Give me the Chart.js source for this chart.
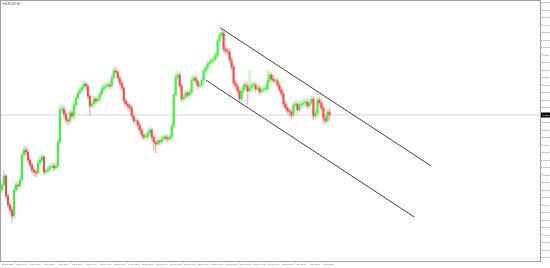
<!DOCTYPE html>
<html>
<head>
<meta charset="utf-8">
<title>EURUSD H4</title>
<script src="https://cdn.jsdelivr.net/npm/chart.js@4.4.1/dist/chart.umd.min.js"></script>
<style>
    html, body { margin: 0; padding: 0; background: #ffffff; }
    #wrap { width: 550px; height: 268px; position: relative; }
</style>
</head>
<body>
<div id="wrap"><canvas id="priceChart"></canvas></div>
<script>
// Symbol caption shown in the top-left corner
const symbolTitle = 'EURUSD,H4';

// H4 candles (oldest first)
const firstOpen = 1.2120;
const closes = [
    1.2130, 1.2148, 1.2108, 1.2090, 1.2080, 1.2068, 1.2120, 1.2130, 1.2128, 1.2140,
    1.2190, 1.2200, 1.2196, 1.2180, 1.2170, 1.2160, 1.2156, 1.2154, 1.2174, 1.2180,
    1.2186, 1.2156, 1.2158, 1.2162, 1.2166, 1.2168, 1.2164, 1.2168, 1.2216, 1.2280,
    1.2282, 1.2272, 1.2260, 1.2258, 1.2274, 1.2268, 1.2290, 1.2304, 1.2314, 1.2320,
    1.2326, 1.2332, 1.2328, 1.2308, 1.2288, 1.2292, 1.2302, 1.2298, 1.2302, 1.2312,
    1.2322, 1.2326, 1.2328, 1.2330, 1.2328, 1.2344, 1.2358, 1.2356, 1.2344, 1.2334,
    1.2324, 1.2298, 1.2292, 1.2288, 1.2284, 1.2268, 1.2258, 1.2258, 1.2250, 1.2240,
    1.2230, 1.2226, 1.2226, 1.2234, 1.2240, 1.2226, 1.2216, 1.2212, 1.2218, 1.2216,
    1.2222, 1.2226, 1.2224, 1.2222, 1.2226, 1.2248, 1.2310, 1.2346, 1.2350, 1.2328,
    1.2302, 1.2306, 1.2314, 1.2310, 1.2316, 1.2340, 1.2344, 1.2338, 1.2328, 1.2330,
    1.2340, 1.2358, 1.2364, 1.2372, 1.2376, 1.2380, 1.2382, 1.2390, 1.2418, 1.2430,
    1.2434, 1.2402, 1.2398, 1.2396, 1.2380, 1.2366, 1.2334, 1.2328, 1.2318, 1.2302,
    1.2318, 1.2330, 1.2328, 1.2318, 1.2324, 1.2330, 1.2330, 1.2322, 1.2324, 1.2316,
    1.2320, 1.2322, 1.2322, 1.2338, 1.2350, 1.2342, 1.2338, 1.2338, 1.2330, 1.2320,
    1.2312, 1.2292, 1.2284, 1.2278, 1.2276, 1.2270, 1.2290, 1.2292, 1.2280, 1.2290,
    1.2292, 1.2294, 1.2296, 1.2288, 1.2294, 1.2302, 1.2268, 1.2274, 1.2300, 1.2294,
    1.2284, 1.2264, 1.2258, 1.2276, 1.2270
];
const highs = [
    1.2136, 1.2160, 1.2152, 1.2112, 1.2094, 1.2086, 1.2128, 1.2138, 1.2136, 1.2148,
    1.2196, 1.2208, 1.2206, 1.2202, 1.2186, 1.2176, 1.2166, 1.2162, 1.2180, 1.2188,
    1.2192, 1.2190, 1.2164, 1.2168, 1.2172, 1.2174, 1.2174, 1.2176, 1.2222, 1.2288,
    1.2290, 1.2288, 1.2278, 1.2266, 1.2280, 1.2280, 1.2296, 1.2310, 1.2320, 1.2326,
    1.2332, 1.2340, 1.2336, 1.2332, 1.2312, 1.2298, 1.2308, 1.2306, 1.2308, 1.2318,
    1.2328, 1.2332, 1.2334, 1.2336, 1.2336, 1.2350, 1.2364, 1.2366, 1.2360, 1.2348,
    1.2338, 1.2328, 1.2302, 1.2296, 1.2292, 1.2290, 1.2272, 1.2264, 1.2262, 1.2254,
    1.2244, 1.2234, 1.2232, 1.2240, 1.2246, 1.2244, 1.2230, 1.2220, 1.2224, 1.2222,
    1.2228, 1.2232, 1.2230, 1.2230, 1.2232, 1.2254, 1.2316, 1.2352, 1.2358, 1.2354,
    1.2332, 1.2312, 1.2320, 1.2318, 1.2322, 1.2346, 1.2350, 1.2348, 1.2342, 1.2336,
    1.2346, 1.2364, 1.2370, 1.2378, 1.2382, 1.2386, 1.2388, 1.2396, 1.2424, 1.2436,
    1.2444, 1.2438, 1.2408, 1.2404, 1.2402, 1.2386, 1.2372, 1.2340, 1.2334, 1.2324,
    1.2324, 1.2336, 1.2336, 1.2334, 1.2360, 1.2336, 1.2336, 1.2336, 1.2330, 1.2330,
    1.2326, 1.2328, 1.2328, 1.2360, 1.2356, 1.2354, 1.2348, 1.2344, 1.2344, 1.2336,
    1.2326, 1.2318, 1.2298, 1.2290, 1.2284, 1.2282, 1.2296, 1.2298, 1.2298, 1.2296,
    1.2298, 1.2300, 1.2302, 1.2302, 1.2300, 1.2308, 1.2308, 1.2280, 1.2316, 1.2306,
    1.2300, 1.2290, 1.2270, 1.2282, 1.2284
];
const lows = [
    1.2114, 1.2126, 1.2102, 1.2084, 1.2074, 1.2056, 1.2064, 1.2114, 1.2120, 1.2124,
    1.2136, 1.2186, 1.2190, 1.2174, 1.2164, 1.2154, 1.2148, 1.2146, 1.2150, 1.2170,
    1.2176, 1.2150, 1.2150, 1.2154, 1.2158, 1.2160, 1.2158, 1.2160, 1.2164, 1.2212,
    1.2274, 1.2266, 1.2254, 1.2250, 1.2252, 1.2262, 1.2262, 1.2284, 1.2298, 1.2310,
    1.2316, 1.2322, 1.2322, 1.2302, 1.2270, 1.2284, 1.2286, 1.2292, 1.2294, 1.2298,
    1.2308, 1.2318, 1.2322, 1.2324, 1.2322, 1.2324, 1.2340, 1.2350, 1.2338, 1.2328,
    1.2318, 1.2292, 1.2286, 1.2280, 1.2278, 1.2262, 1.2252, 1.2250, 1.2242, 1.2234,
    1.2224, 1.2220, 1.2220, 1.2222, 1.2230, 1.2218, 1.2200, 1.2194, 1.2208, 1.2210,
    1.2212, 1.2218, 1.2218, 1.2216, 1.2218, 1.2222, 1.2244, 1.2306, 1.2342, 1.2322,
    1.2296, 1.2298, 1.2302, 1.2304, 1.2306, 1.2312, 1.2336, 1.2332, 1.2322, 1.2324,
    1.2326, 1.2336, 1.2354, 1.2360, 1.2368, 1.2372, 1.2376, 1.2378, 1.2386, 1.2414,
    1.2426, 1.2396, 1.2392, 1.2390, 1.2374, 1.2360, 1.2328, 1.2322, 1.2312, 1.2296,
    1.2298, 1.2314, 1.2322, 1.2292, 1.2314, 1.2320, 1.2324, 1.2316, 1.2318, 1.2310,
    1.2312, 1.2316, 1.2316, 1.2318, 1.2334, 1.2338, 1.2332, 1.2332, 1.2326, 1.2314,
    1.2306, 1.2286, 1.2278, 1.2272, 1.2268, 1.2262, 1.2266, 1.2284, 1.2274, 1.2276,
    1.2286, 1.2288, 1.2290, 1.2282, 1.2284, 1.2290, 1.2260, 1.2262, 1.2270, 1.2288,
    1.2278, 1.2256, 1.2252, 1.2254, 1.2260
];

// Time axis labels, one every 7 bars
const dateTicks = [
    '30 Nov 2020', '1 Dec 04:00', '2 Dec 08:00', '3 Dec 12:00', '4 Dec 16:00',
    '7 Dec 20:00', '9 Dec 00:00', '10 Dec 04:00', '11 Dec 08:00', '14 Dec 12:00',
    '15 Dec 16:00', '16 Dec 20:00', '18 Dec 00:00', '21 Dec 04:00', '22 Dec 08:00',
    '23 Dec 12:00', '24 Dec 16:00', '25 Dec 20:00', '29 Dec 00:00', '30 Dec 04:00',
    '31 Dec 08:00', '1 Jan 12:00', '4 Jan 16:00', '5 Jan 20:00'
];
const tickEvery = 7;
const slotCount = 270;   // bars that fit in the window, incl. empty right side

// Hand drawn descending channel (bar index, price)
const upperChannel = [{ x: 109.5, y: 1.2444 }, { x: 215, y: 1.2168 }];
const lowerChannel = [{ x: 102, y: 1.2340 }, { x: 206.5, y: 1.2066 }];

const priceMin = 1.1978;
const priceMax = 1.2498;
const priceStep = 0.0015;

const colors = {
    up: '#3cf03c',
    down: '#f24a4a',
    upWick: 'rgba(90, 230, 90, 0.45)',
    downWick: 'rgba(240, 100, 100, 0.45)',
    channel: '#404040',
    axis: '#a0a0a0',
    text: '#6a6a6a',
    bidLine: '#e2e5e9'
};
const FONT = "'Liberation Sans', Arial, sans-serif";

const opens = closes.map((c, i) => (i === 0 ? firstOpen : closes[i - 1]));
const labels = Array.from({ length: slotCount }, (_, i) =>
    (i % tickEvery === 0 && dateTicks[i / tickEvery]) ? dateTicks[i / tickEvery] : '');
const isUp = closes.map((c, i) => c >= opens[i]);

const terminalPlugin = {
    id: 'terminal',
    beforeDatasetsDraw(chart) {
        // current bid line
        const { ctx, chartArea } = chart;
        const y = chart.scales.y.getPixelForValue(closes[closes.length - 1]);
        ctx.save();
        ctx.strokeStyle = colors.bidLine;
        ctx.lineWidth = 1.5;
        ctx.beginPath();
        ctx.moveTo(chartArea.left, y);
        ctx.lineTo(chartArea.right, y);
        ctx.stroke();
        ctx.restore();
    },
    afterDatasetsDraw(chart) {
        // channel lines, placed through the chart's own scales
        const { ctx } = chart;
        const xs = chart.scales.x, ys = chart.scales.y;
        ctx.save();
        ctx.strokeStyle = colors.channel;
        ctx.lineWidth = 1;
        [upperChannel, lowerChannel].forEach(line => {
            ctx.beginPath();
            line.forEach((p, i) => {
                const px = xs.getPixelForValue(p.x);
                const py = ys.getPixelForValue(p.y);
                if (i === 0) ctx.moveTo(px, py); else ctx.lineTo(px, py);
            });
            ctx.stroke();
        });
        ctx.restore();
    },
    afterDraw(chart) {
        const { ctx, chartArea } = chart;
        ctx.save();
        // frame
        ctx.strokeStyle = colors.axis;
        ctx.lineWidth = 1;
        ctx.strokeRect(chartArea.left - 0.5, chartArea.top - 0.5,
            chartArea.right - chartArea.left + 1, chartArea.bottom - chartArea.top + 1);

        // bid label on the price axis
        const last = closes[closes.length - 1];
        const y = chart.scales.y.getPixelForValue(last);
        ctx.fillStyle = '#000000';
        ctx.fillRect(chartArea.right + 1, y - 2.5, 9, 5);
        ctx.fillStyle = '#ffffff';
        ctx.font = `2.4px ${FONT}`;
        ctx.textBaseline = 'middle';
        ctx.textAlign = 'left';
        ctx.fillText(last.toFixed(4), chartArea.right + 2.5, y);

        // symbol caption
        ctx.fillStyle = '#555555';
        ctx.font = `2.6px ${FONT}`;
        ctx.textBaseline = 'top';
        ctx.fillText(symbolTitle, chartArea.left + 4, chartArea.top + 1.5);
        ctx.fillStyle = '#8a8a8a';
        ctx.fillRect(chartArea.left + 1.5, chartArea.top + 2, 2, 1.5);
        ctx.restore();
    }
};

new Chart(document.getElementById('priceChart').getContext('2d'), {
    type: 'bar',
    data: {
        labels: labels,
        datasets: [
            {
                label: 'Body',
                data: closes.map((c, i) => [opens[i], c]),
                backgroundColor: isUp.map(u => (u ? colors.up : colors.down)),
                barThickness: 1.4,
                minBarLength: 1,
                grouped: false,
                order: 0
            },
            {
                label: 'Wick',
                data: lows.map((l, i) => [l, highs[i]]),
                backgroundColor: isUp.map(u => (u ? colors.upWick : colors.downWick)),
                barThickness: 1,
                grouped: false,
                order: 1
            }
        ]
    },
    options: {
        responsive: true,
        maintainAspectRatio: false,
        animation: false,
        events: [],
        layout: { padding: { top: 1, left: 1, right: 0, bottom: 0 } },
        plugins: {
            legend: { display: false },
            tooltip: { enabled: false }
        },
        scales: {
            x: {
                type: 'category',
                offset: true,
                grid: { drawOnChartArea: false, offset: false, tickLength: 1.5, color: colors.axis },
                border: { color: colors.axis },
                ticks: {
                    autoSkip: false,
                    maxRotation: 0,
                    minRotation: 0,
                    align: 'start',
                    padding: 0.5,
                    color: colors.text,
                    font: { family: FONT, size: 2 }
                },
                afterBuildTicks: axis => {
                    axis.ticks = axis.ticks.filter(t => labels[t.value] !== '');
                },
                afterFit: axis => {
                    axis.height = 7;
                    axis.paddingLeft = 0;
                    axis.paddingRight = 0;
                }
            },
            y: {
                position: 'right',
                min: priceMin,
                max: priceMax,
                grid: { drawOnChartArea: false, tickLength: 2, color: colors.axis },
                border: { color: colors.axis },
                ticks: {
                    stepSize: priceStep,
                    includeBounds: false,
                    padding: 0.5,
                    color: colors.text,
                    font: { family: FONT, size: 2.4 },
                    callback: v => v.toFixed(4)
                },
                afterFit: axis => {
                    axis.width = 10;
                    axis.paddingTop = 0;
                    axis.paddingBottom = 0;
                }
            }
        }
    },
    plugins: [terminalPlugin]
});
</script>
</body>
</html>
